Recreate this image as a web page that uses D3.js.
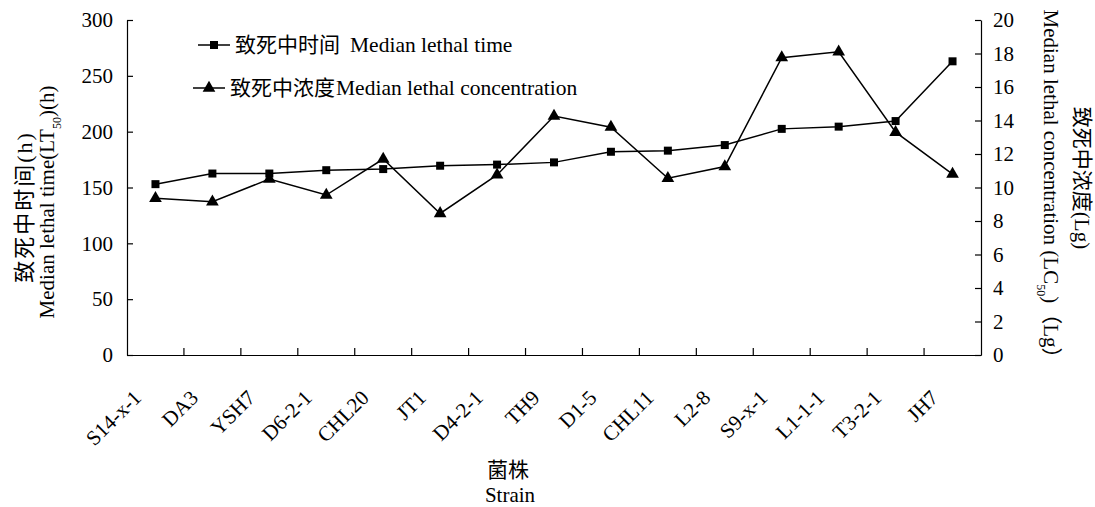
<!DOCTYPE html>
<html>
<head>
<meta charset="utf-8">
<script src="https://cdn.jsdelivr.net/npm/d3@7"></script>
<style>
  body { margin: 0; background: #fff; }
  svg { display: block; }
  text { font-family: "Liberation Serif", "Noto Sans CJK SC", serif; fill: #000; }
  .axis path, .axis line { stroke: #000; stroke-width: 1.2; }
</style>
</head>
<body>
<script>
var width = 1095,
    height = 507;

// strains on the x axis
var strains = ["S14-x-1", "DA3", "YSH7", "D6-2-1", "CHL20", "JT1", "D4-2-1", "TH9",
               "D1-5", "CHL11", "L2-8", "S9-x-1", "L1-1-1", "T3-2-1", "JH7"];
// median lethal time (h), left axis
var lt50 = [153, 162.5, 162.5, 165.5, 166.5, 169.5, 170.5, 172.5,
            182, 183, 188, 202.5, 204.5, 209.5, 263];
// median lethal concentration (Lg), right axis
var lc50 = [9.36, 9.15, 10.5, 9.55, 11.7, 8.45, 10.75, 14.27,
            13.6, 10.55, 11.25, 17.75, 18.1, 13.3, 10.8];

var leftTicks = [0, 50, 100, 150, 200, 250, 300];
var rightTicks = [0, 2, 4, 6, 8, 10, 12, 14, 16, 18, 20];

var margin = {top: 20, right: 114, bottom: 152, left: 127};

var svg = d3.select("body")
    .append("svg")
    .attr("width", width)
    .attr("height", height);

var x = d3.scaleBand()
    .domain(strains)
    .range([margin.left, width - margin.right])
    .padding(0);

var yLeft = d3.scaleLinear()
    .domain([0, 300])
    .range([height - margin.bottom, margin.top]);

var yRight = d3.scaleLinear()
    .domain([0, 20])
    .range([height - margin.bottom, margin.top]);

var bottom = height - margin.bottom;

// left axis
svg.append("g")
    .attr("class", "axis")
    .attr("transform", "translate(" + margin.left + ",0)")
    .call(d3.axisLeft(yLeft).tickValues(leftTicks).tickSize(-6).tickPadding(14).tickSizeOuter(0))
    .call(function (g) { g.selectAll("text").style("font-size", "21px"); });

// right axis
svg.append("g")
    .attr("class", "axis")
    .attr("transform", "translate(" + (width - margin.right) + ",0)")
    .call(d3.axisRight(yRight).tickValues(rightTicks).tickSize(-6).tickPadding(12).tickSizeOuter(0))
    .call(function (g) { g.selectAll("text").style("font-size", "21px"); });

// bottom axis, ticks at the category boundaries
var xAxis = svg.append("g")
    .attr("class", "axis")
    .attr("transform", "translate(0," + bottom + ")")
    .call(d3.axisBottom(x).tickSize(-7).tickSizeOuter(0));

xAxis.selectAll(".tick line")
    .attr("transform", "translate(" + (-x.bandwidth() / 2) + ",0)")
    .style("display", function (d, i) { return i === 0 ? "none" : null; });

xAxis.selectAll(".tick text")
    .style("font-size", "21px")
    .attr("text-anchor", "end")
    .attr("y", 0)
    .attr("dy", 0)
    .attr("transform", "translate(-13,44) rotate(-45)");

// lines
var lineLeft = d3.line()
    .x(function (d, i) { return x(strains[i]) + x.bandwidth() / 2; })
    .y(function (d) { return yLeft(d); });

var lineRight = d3.line()
    .x(function (d, i) { return x(strains[i]) + x.bandwidth() / 2; })
    .y(function (d) { return yRight(d); });

svg.append("path")
    .datum(lt50)
    .attr("d", lineLeft)
    .attr("fill", "none")
    .attr("stroke", "#000")
    .attr("stroke-width", 1.5);

svg.append("path")
    .datum(lc50)
    .attr("d", lineRight)
    .attr("fill", "none")
    .attr("stroke", "#000")
    .attr("stroke-width", 1.5);

var square = d3.symbol().type(d3.symbolSquare).size(64);
var triangle = d3.symbol().type(d3.symbolTriangle).size(70);

svg.append("g")
    .selectAll("path")
    .data(lt50)
    .enter().append("path")
    .attr("d", square)
    .attr("transform", function (d, i) {
        return "translate(" + (x(strains[i]) + x.bandwidth() / 2) + "," + yLeft(d) + ")";
    });

svg.append("g")
    .selectAll("path")
    .data(lc50)
    .enter().append("path")
    .attr("d", triangle)
    .attr("transform", function (d, i) {
        return "translate(" + (x(strains[i]) + x.bandwidth() / 2) + "," + yRight(d) + ")";
    });

// legend
var legend = [
    {x: 198, y: 45, sym: square, zh: "致死中时间", en: "Median lethal time", gap: 10},
    {x: 193, y: 88, sym: triangle, zh: "致死中浓度", en: "Median lethal concentration", gap: 1}
];

legend.forEach(function (l) {
    var g = svg.append("g");
    g.append("line")
        .attr("x1", l.x).attr("x2", l.x + 32)
        .attr("y1", l.y).attr("y2", l.y)
        .attr("stroke", "#000").attr("stroke-width", 1.5);
    g.append("path")
        .attr("d", l.sym)
        .attr("transform", "translate(" + (l.x + 16) + "," + l.y + ")");
    var t = g.append("text")
        .attr("x", l.x + 37)
        .attr("y", l.y + 7)
        .style("font-size", "21px");
    t.append("tspan").text(l.zh);
    t.append("tspan").attr("dx", l.gap).style("font-size", "21.5px").text(l.en);
});

// axis titles
svg.append("text")
    .attr("transform", "translate(24,207) rotate(-90)")
    .attr("text-anchor", "middle")
    .attr("dy", "0.35em")
    .style("font-size", "22px")
    .style("letter-spacing", "2px")
    .text("致死中时间(h)");

var lt2 = svg.append("text")
    .attr("transform", "translate(47,202) rotate(-90)")
    .attr("text-anchor", "middle")
    .attr("dy", "0.35em")
    .style("font-size", "21px");
lt2.append("tspan").text("Median lethal time(LT");
lt2.append("tspan").attr("baseline-shift", "sub").style("font-size", "12px").text("50");
lt2.append("tspan").text(")(h)");

svg.append("text")
    .attr("transform", "translate(1082,178) rotate(90)")
    .attr("text-anchor", "middle")
    .attr("dy", "0.35em")
    .style("font-size", "21px")
    .text("致死中浓度(Lg)");

var rt2 = svg.append("text")
    .attr("transform", "translate(1051,189) rotate(90)")
    .attr("text-anchor", "middle")
    .attr("dy", "0.35em")
    .style("font-size", "21px");
rt2.append("tspan").text("Median lethal concentration (LC");
rt2.append("tspan").attr("baseline-shift", "sub").style("font-size", "12px").text("50");
rt2.append("tspan").text(")（Lg）");

svg.append("text")
    .attr("x", 508)
    .attr("y", 477)
    .attr("text-anchor", "middle")
    .style("font-size", "21px")
    .text("菌株");

svg.append("text")
    .attr("x", 510)
    .attr("y", 502)
    .attr("text-anchor", "middle")
    .style("font-size", "21px")
    .text("Strain");
</script>
</body>
</html>
